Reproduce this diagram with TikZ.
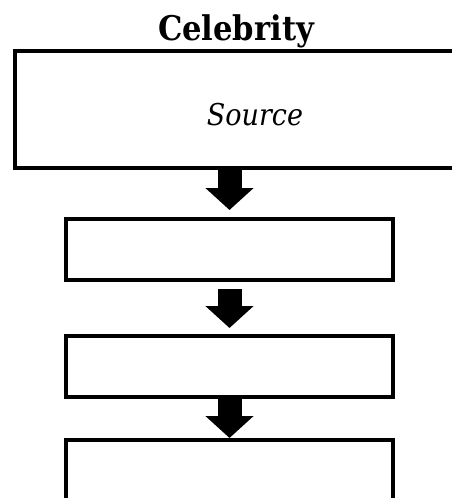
\documentclass[tikz,border=0pt]{standalone}
\usepackage{fontspec}
\setmainfont{DejaVu Serif Condensed}
\usetikzlibrary{arrows.meta}

\begin{document}
\begin{tikzpicture}
  [x=1pt, y=-1pt,
   box/.style={draw, line width=4pt, inner sep=0pt, minimum width=327pt, minimum height=61pt},
   flow/.style={line width=24pt, -{Triangle[width=47pt, length=22pt]}}]
  \useasboundingbox (0,0) rectangle (452,498);
  \clip (0,0) rectangle (452,498);
  \node (title) at (236,40) [anchor=base, font=\bfseries\fontsize{34}{40}\selectfont] {Celebrity};
  \node (src) at (237.5,109.5) [box, minimum width=445pt, minimum height=117pt] {};
  \node (srctext) at (255,125) [anchor=base, font=\itshape\fontsize{30}{36}\selectfont] {Source};
  \node (b1) at (229.5,249.5) [box] {};
  \node (b2) at (229.5,366.5) [box] {};
  \node (b3) at (229.5,500) [box, minimum height=120pt] {};
  \draw [flow, shorten >=7pt] (b1.north |- src.south) to (b1.north);
  \draw [flow, shorten <=7pt, shorten >=6pt] (b1.south) to (b2.north);
  \draw [flow] (b2.south) to (b3.north);
\end{tikzpicture}
\end{document}
